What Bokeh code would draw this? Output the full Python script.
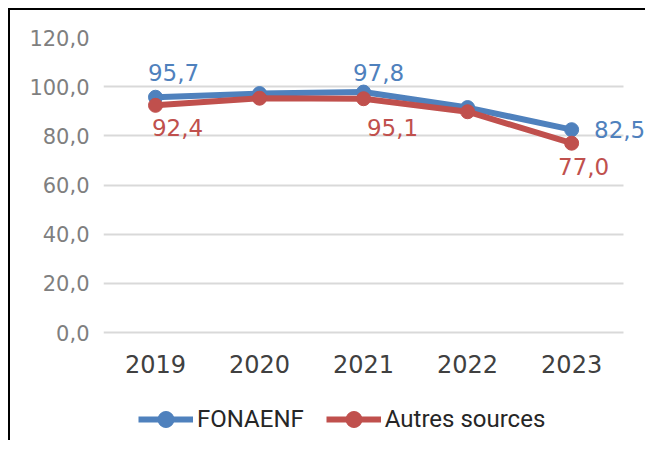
from bokeh.plotting import figure
from bokeh.models import ColumnDataSource, FixedTicker, Legend, LegendItem, Range1d
from bokeh.core.properties import value
from bokeh.embed import file_html
from bokeh.resources import INLINE

years = [2019, 2020, 2021, 2022, 2023]
year_labels = ["2019", "2020", "2021", "2022", "2023"]
fonaenf = [95.7, 97.2, 97.8, 91.5, 82.5]
autres = [92.4, 95.3, 95.1, 89.8, 77.0]
y_ticks = [0, 20, 40, 60, 80, 100, 120]
y_tick_labels = ["0,0", "20,0", "40,0", "60,0", "80,0", "100,0", "120,0"]

# data labels shown in the chart (year, value, text)
fon_lbl_years = [2019, 2021, 2023]
fon_lbl_vals = [95.7, 97.8, 82.5]
fon_lbl_text = ["95,7", "97,8", "82,5"]
aut_lbl_years = [2019, 2021, 2023]
aut_lbl_vals = [92.4, 95.1, 77.0]
aut_lbl_text = ["92,4", "95,1", "77,0"]

BLUE = "#4F81BD"
RED = "#C0504D"
FONT = "DejaVu Sans"

# frame extends below the 0 line to host the year labels and the legend
p = figure(frame_width=542, frame_height=403, x_range=Range1d(2018.5, 2023.71),
           y_range=Range1d(-43.93, 120), output_backend="svg", toolbar_location=None,
           min_border_left=93, min_border_right=0, min_border_top=27, min_border_bottom=0)
p.styles = {"border-left": "2px solid black", "border-top": "2px solid black",
            "margin-left": "8px", "margin-top": "8px"}
p.outline_line_color = None
p.background_fill_color = "white"

p.yaxis.ticker = FixedTicker(ticks=y_ticks)
p.yaxis.major_label_overrides = {t: l for t, l in zip(y_ticks, y_tick_labels)}
p.yaxis.axis_line_color = None
p.yaxis.major_tick_line_color = None
p.yaxis.minor_tick_line_color = None
p.yaxis.major_label_text_font = FONT
p.yaxis.major_label_text_font_size = "21px"
p.yaxis.major_label_text_color = "#7F7F7F"
p.yaxis.major_label_standoff = 8

p.xaxis.fixed_location = 0
p.xaxis.ticker = FixedTicker(ticks=years)
p.xaxis.major_label_overrides = {t: l for t, l in zip(years, year_labels)}
p.xaxis.axis_line_color = None
p.xaxis.major_tick_line_color = None
p.xaxis.minor_tick_line_color = None
p.xaxis.major_label_text_font = FONT
p.xaxis.major_label_text_font_size = "24px"
p.xaxis.major_label_text_color = "#404040"
p.xaxis.major_label_standoff = 16

p.xgrid.grid_line_color = None
p.ygrid.grid_line_color = "#D9D9D9"
p.ygrid.grid_line_width = 2
p.ygrid.cross_bounds = (2018.5, 2023.5)

src = ColumnDataSource(dict(x=years, f=fonaenf, a=autres))
l1 = p.line("x", "f", source=src, line_color=BLUE, line_width=6)
c1 = p.scatter("x", "f", source=src, size=14, fill_color=BLUE, line_color=BLUE)
l2 = p.line("x", "a", source=src, line_color=RED, line_width=6)
c2 = p.scatter("x", "a", source=src, size=14, fill_color=RED, line_color=RED)

fsrc = ColumnDataSource(dict(x=fon_lbl_years, y=fon_lbl_vals, t=fon_lbl_text,
                             dx=[18, 15, 48], dy=[-25, -20, 0]))
p.text("x", "y", text="t", source=fsrc, x_offset="dx", y_offset="dy",
       text_align="center", text_baseline="middle", text_color=BLUE,
       text_font=value(FONT), text_font_size="23px")
asrc = ColumnDataSource(dict(x=aut_lbl_years, y=aut_lbl_vals, t=aut_lbl_text,
                             dx=[22, 29, 12], dy=[22, 29, 23]))
p.text("x", "y", text="t", source=asrc, x_offset="dx", y_offset="dy",
       text_align="center", text_baseline="middle", text_color=RED,
       text_font=value(FONT), text_font_size="23px")

legend = Legend(items=[LegendItem(label="FONAENF", renderers=[l1, c1]),
                       LegendItem(label="Autres sources", renderers=[l2, c2])],
                orientation="horizontal", location=(35, 1),
                label_text_font="Roboto", label_text_font_size="24px",
                label_text_color="#262626", glyph_width=55, glyph_height=40,
                spacing=22, label_standoff=4, padding=4, margin=0,
                border_line_color=None, background_fill_alpha=0)
p.add_layout(legend, "center")

open("out.html", "w").write(file_html(p, INLINE))
